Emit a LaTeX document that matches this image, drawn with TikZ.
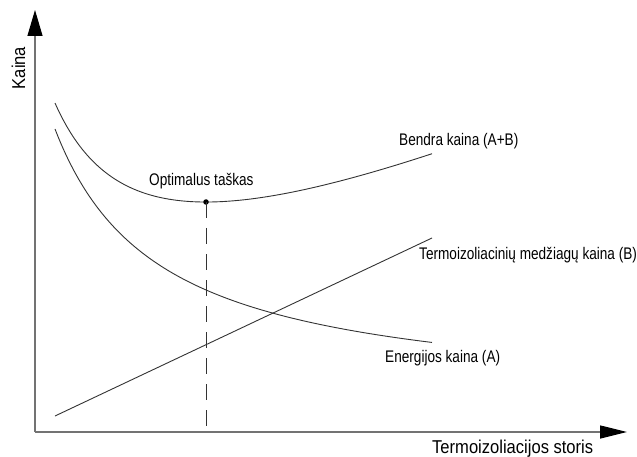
\documentclass[tikz,border=0pt]{standalone}
\usepackage{fontspec}
\setmainfont{Liberation Sans}[FakeStretch=0.81]
\newfontfamily\axfont{Liberation Sans}[FakeStretch=0.89]
\usetikzlibrary{arrows.meta}
\begin{document}
\begin{tikzpicture}[x=1pt,y=-1pt,
  axis/.style={draw=black!55, line width=1.3pt},
  curve/.style={draw=black!80, line width=0.9pt},
  lbl/.style={inner sep=0pt, font=\fontsize{16.8}{19}\selectfont},
  axlbl/.style={inner sep=0pt, font=\axfont\fontsize{18.6}{22}\selectfont},
  tipY/.style={-{Triangle[length=26pt,width=15pt,color=black]}},
  tipX/.style={-{Triangle[length=27pt,width=13pt,color=black]}},
  dashline/.style={draw=black!80, line width=0.9pt, dash pattern=on 16pt off 10pt}]
\useasboundingbox (0,0) rectangle (637,457);
% axes
\coordinate (O) at (35,432);
\coordinate (Ytip) at (35,10);
\coordinate (Xtip) at (627,432);
\draw[axis, tipY] (O) -- (Ytip);
\draw[axis, tipX] (O) -- (Xtip);
\node[axlbl, rotate=90, anchor=base] (ylab) at (25,68) {Kaina};
\node[axlbl, anchor=base west] (xlab) at (432,453) {Termoizoliacijos storis};
% curves
\draw[curve] plot[domain=55:432, samples=120, smooth] (\x, {401.9 - 286.58/((\x+50)/100)});
\draw[curve] plot[domain=55:432, samples=120, smooth] (\x, {412.6 - 0.4558*\x - 298.7/((\x+50)/100)});
\coordinate (B0) at (55,416);
\coordinate (B1) at (432,238);
\draw[curve] (B0) -- (B1);
% optimum
\node[circle, fill=black, inner sep=0pt, minimum size=5.5pt] (opt) at (206,202) {};
\coordinate (foot) at (206,432);
\draw[dashline] (opt.center) -- (foot);
% labels
\node[lbl, anchor=base west] (lopt) at (149,186) {Optimalus taškas};
\node[lbl, anchor=base west] (lAB) at (399,146) {Bendra kaina (A+B)};
\node[lbl, anchor=base west] (lB) at (419,259) {Termoizoliacinių medžiagų kaina (B)};
\node[lbl, anchor=base west] (lA) at (385,362) {Energijos kaina (A)};
\end{tikzpicture}
\end{document}
